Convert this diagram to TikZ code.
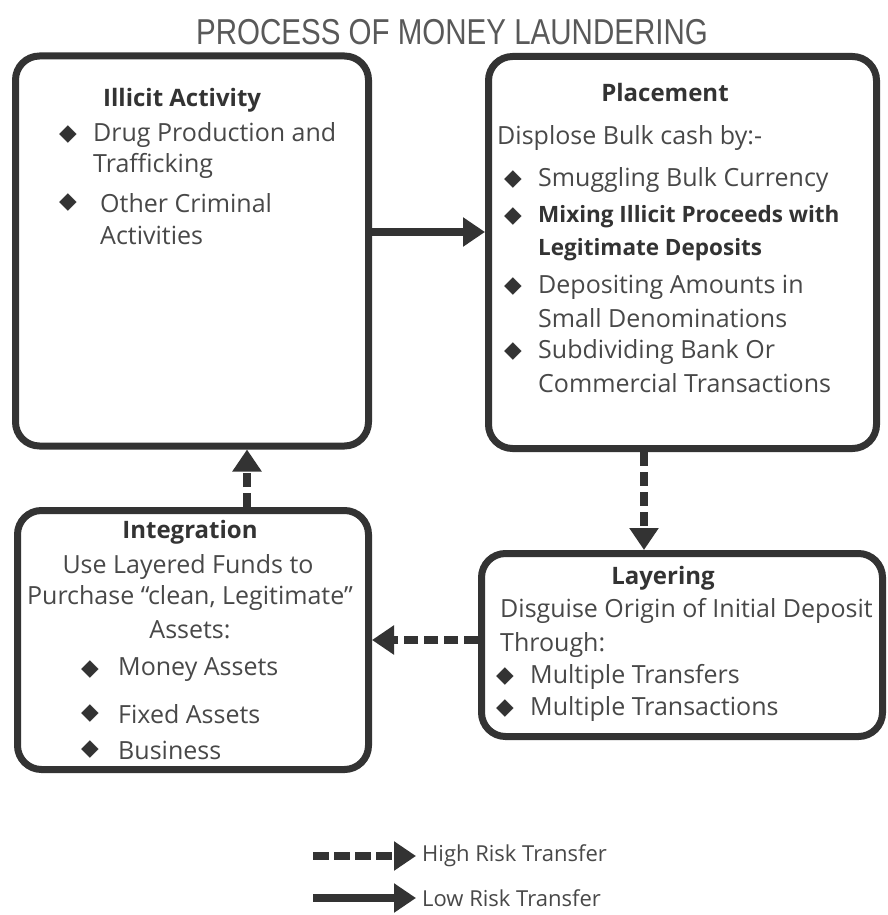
\documentclass[tikz,border=0pt]{standalone}
\usepackage{fontspec}
\usepackage{graphicx}
\setmainfont{Open Sans}
\newfontfamily\symf{DejaVu Sans}
\newfontfamily\titlef{Liberation Sans}
\usetikzlibrary{arrows.meta,calc}
\definecolor{ink}{HTML}{333333}
\definecolor{txt}{HTML}{484848}
\begin{document}
\begin{tikzpicture}[x=1pt,y=-1pt,
  box/.style={draw=ink, line width=7pt, rounded corners=24pt, inner sep=0pt},
  body/.style={inner sep=0pt, text=txt, font=\fontsize{25}{28}\selectfont},
  bodyw/.style={body, anchor=west},
  head/.style={inner sep=0pt, text=ink, font=\bfseries\fontsize{24}{27}\selectfont},
  mixw/.style={inner sep=0pt, anchor=west, text=ink, font=\bfseries\fontsize{22.5}{26}\selectfont},
  bul/.style={inner sep=0pt, text=ink, font=\symf\fontsize{23}{23}\selectfont},
  leg/.style={inner sep=0pt, anchor=west, text=txt, font=\fontsize{22}{25}\selectfont},
  solidarr/.style={draw=ink, line width=8pt, -{Triangle[length=22pt,width=28pt]}},
  dasharr/.style={solidarr, dash pattern=on 14pt off 6pt}]
\fill[white] (0,0) rectangle (888,915);
\useasboundingbox (0,0) rectangle (888,915);

% title
\node[inner sep=0pt, text=black!65] (title) at (452,32)
  {\scalebox{0.82}[1]{\titlef\fontsize{36}{40}\selectfont PROCESS OF MONEY LAUNDERING}};

% boxes
\node[box, minimum width=353pt, minimum height=390pt] (ill) at (192,251) {};
\node[box, minimum width=388pt, minimum height=392pt] (pla) at (682.5,252.5) {};
\node[box, minimum width=351pt, minimum height=259pt] (int) at (193,640) {};
\node[box, minimum width=401pt, minimum height=183pt] (lay) at (682,645) {};

% Illicit Activity
\node[head, anchor=west] (illh) at (103,100) {Illicit Activity};
\node[bul] (illb1) at (68,135) {◆};
\node[bodyw] (illt1) at (93,135) {Drug Production and};
\node[bodyw] (illt1b) at (93,166) {Trafficking};
\node[bul] (illb2) at (68,203) {◆};
\node[bodyw] (illt2) at (100,203) {Other Criminal};
\node[bodyw] (illt2b) at (100,235) {Activities};

% Placement
\node[head] (plah) at (665,93) {Placement};
\node[bodyw] (plai) at (497,138) {Displose Bulk cash by:-};
\node[bul] (plab1) at (513,180) {◆};
\node[bodyw] (plat1) at (538,180) {Smuggling Bulk Currency};
\node[bul] (plab2) at (513,217) {◆};
\node[mixw] (plat2) at (538,217) {Mixing Illicit Proceeds with};
\node[mixw] (plat2b) at (538,250) {Legitimate Deposits};
\node[bul] (plab3) at (513,287) {◆};
\node[bodyw] (plat3) at (538,287) {Depositing Amounts in};
\node[bodyw] (plat3b) at (538,318) {Small Denominations};
\node[bul] (plab4) at (513,352) {◆};
\node[bodyw] (plat4) at (538,352) {Subdividing Bank Or};
\node[bodyw] (plat4b) at (538,383) {Commercial Transactions};

% Integration
\node[head] (inth) at (190,532) {Integration};
\node[body] (inti1) at (188,567) {Use Layered Funds to};
\node[body] (inti2) at (190,598) {Purchase “clean, Legitimate”};
\node[body] (inti3) at (190,630) {Assets:};
\node[bul] (intb1) at (90,670) {◆};
\node[bodyw] (intt1) at (118,670) {Money Assets};
\node[bul] (intb2) at (90,714) {◆};
\node[bodyw] (intt2) at (118,714) {Fixed Assets};
\node[bul] (intb3) at (90,750) {◆};
\node[bodyw] (intt3) at (118,750) {Business};

% Layering
\node[head] (layh) at (663,578) {Layering};
\node[bodyw] (layi1) at (500,611) {Disguise Origin of Initial Deposit};
\node[bodyw] (layi2) at (500,645) {Through:};
\node[bul] (layb1) at (505,677) {◆};
\node[bodyw] (layt1) at (530,677) {Multiple Transfers};
\node[bul] (layb2) at (505,709) {◆};
\node[bodyw] (layt2) at (530,709) {Multiple Transactions};

% connectors
\draw[solidarr] ([yshift=19pt]ill.east) -- ([yshift=20.5pt]pla.west);
\draw[dasharr] ([xshift=-38.5pt]pla.south) -- ([xshift=-38pt]lay.north);
\draw[dasharr] ([yshift=5pt]lay.west) -- (int.east);
\draw[dasharr] ([xshift=54pt]int.north) -- ([xshift=55pt]ill.south);

% legend
\coordinate (hs) at (313,856);
\node[leg] (ht) at (422,856) {High Risk Transfer};
\coordinate (ls) at (313,898);
\node[leg] (lt) at (422,898) {Low Risk Transfer};
\draw[dasharr, dash pattern=on 16pt off 5pt, shorten >=6pt] (hs) -- (ht.west);
\draw[solidarr, shorten >=6pt] (ls) -- (lt.west);
\end{tikzpicture}
\end{document}
